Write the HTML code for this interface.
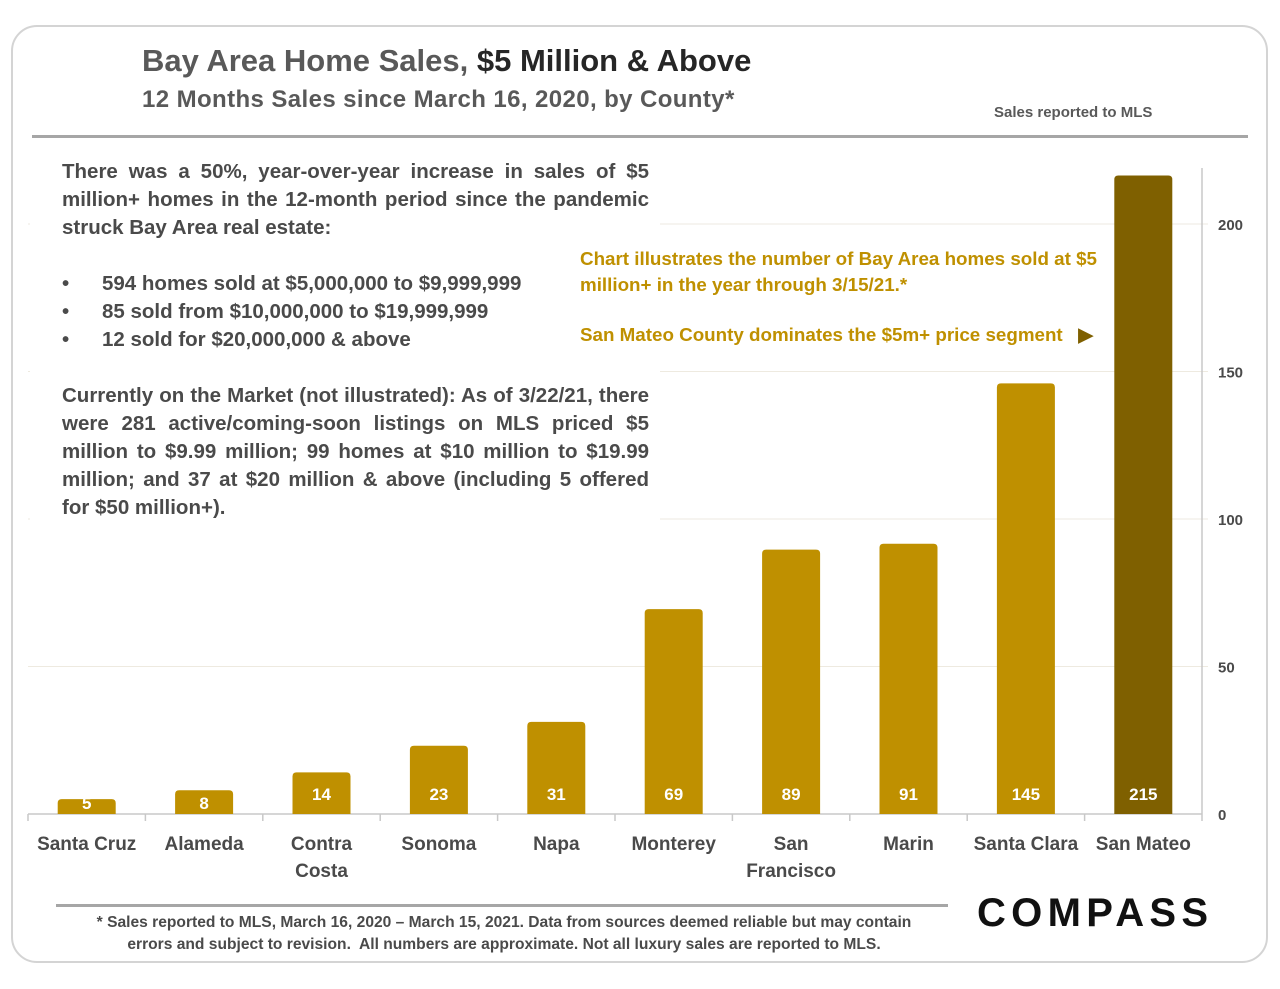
<!DOCTYPE html>
<html><head><meta charset="utf-8"><style>
body{margin:0;background:#fff;width:1280px;height:989px;overflow:hidden;font-family:"Liberation Sans",sans-serif;color:#4a4a4a}
#frame{position:absolute;left:11px;top:25px;width:1257px;height:938px;border:2px solid #d4d4d4;border-radius:26px;box-sizing:border-box}
.t{position:absolute;white-space:nowrap}
</style></head><body>
<div id="frame"></div>
<div class="t" style="left:142px;top:43px;font-size:31px;font-weight:bold;color:#595959;letter-spacing:0px">Bay Area Home Sales, <span style="color:#262626">$5 Million &amp; Above</span></div>
<div class="t" style="left:142px;top:86px;font-size:24px;font-weight:bold;color:#595959;letter-spacing:0.4px">12 Months Sales since March 16, 2020, by County*</div>
<div class="t" style="left:994px;top:104px;font-size:15px;font-weight:bold;color:#595959">Sales reported to MLS</div>
<div style="position:absolute;left:32px;top:135px;width:1216px;height:3px;background:#a6a6a6"></div>
<svg id="chart" width="1280" height="989" style="position:absolute;left:0;top:0"></svg>
<div style="position:absolute;left:30px;top:155px;width:630px;height:365px;background:#fff"></div>
<div style="position:absolute;left:62px;top:158px;width:587px;font-size:20.5px;font-weight:bold;line-height:28px;color:#4a4a4a;text-align:justify">
<div>There was a 50%, year-over-year increase in sales of $5 million+ homes in the 12-month period since the pandemic struck Bay Area real estate:</div>
<div style="height:28px"></div>
<div style="position:relative;padding-left:40px"><span style="position:absolute;left:0">•</span>594 homes sold at $5,000,000 to $9,999,999</div>
<div style="position:relative;padding-left:40px"><span style="position:absolute;left:0">•</span>85 sold from $10,000,000 to $19,999,999</div>
<div style="position:relative;padding-left:40px"><span style="position:absolute;left:0">•</span>12 sold for $20,000,000 &amp; above</div>
<div style="height:28px"></div>
<div>Currently on the Market (not illustrated): As of 3/22/21, there were 281 active/coming-soon listings on MLS priced $5 million to $9.99 million; 99 homes at $10 million to $19.99 million; and 37 at $20 million &amp; above (including 5 offered for $50 million+).</div>
</div>
<div style="position:absolute;left:580px;top:246px;width:530px;font-size:18.8px;font-weight:bold;color:#bf9000;line-height:26px">Chart illustrates the number of Bay Area homes sold at $5 million+ in the year through 3/15/21.*</div>
<div class="t" style="left:580px;top:324px;font-size:18.8px;font-weight:bold;color:#bf9000">San Mateo County dominates the $5m+ price segment &nbsp;&nbsp;<span style="color:#7f6000">▶</span></div>
<div style="position:absolute;left:56px;top:904px;width:892px;height:3px;background:#a6a6a6"></div>
<div style="position:absolute;left:40px;top:912px;width:928px;text-align:center;font-size:15.6px;font-weight:bold;color:#4a4a4a;line-height:22px">* Sales reported to MLS, March 16, 2020 – March 15, 2021. Data from sources deemed reliable but may contain<br>errors and subject to revision.&nbsp; All numbers are approximate. Not all luxury sales are reported to MLS.</div>
<div class="t" style="left:977px;top:891px;font-size:40px;font-weight:bold;letter-spacing:5.3px;color:#111">COMPASS</div>
<script>
const categories=[["Santa Cruz"],["Alameda"],["Contra","Costa"],["Sonoma"],["Napa"],["Monterey"],["San","Francisco"],["Marin"],["Santa Clara"],["San Mateo"]];
const values=[5,8,14,23,31,69,89,91,145,215];
const yTicks=[0,50,100,150,200];
const NS="http://www.w3.org/2000/svg";
const svg=document.getElementById('chart');
const x0=28,x1=1202,yBase=814,yTop=220,yMaxVal=200;
const band=(x1-x0)/categories.length;
const y=v=>yBase-(v/yMaxVal)*(yBase-yTop);
const yt=v=>yBase-(v/yMaxVal)*(yBase-224);
const xc=i=>x0+band*(i+0.5);
function mk(t,a){const e=document.createElementNS(NS,t);for(const k in a)e.setAttribute(k,a[k]);svg.appendChild(e);return e;}
yTicks.forEach(t=>{
 if(t>0){const g=mk('line',{x1:x0,x2:x1+6,y1:yt(t),y2:yt(t),stroke:'#eeeae0','stroke-width':1});
 
 }
 const l=mk('text',{x:x1+16,y:yt(t)+6,'font-size':15,'font-weight':'bold',fill:'#4a4a4a','font-family':'Liberation Sans'});
 l.textContent=t;
 
 
});
const ax=mk('line',{x1:x1,x2:x1,y1:168,y2:yBase,stroke:'#c8c8c8','stroke-width':1.5});


const bx=mk('line',{x1:x0,x2:x1,y1:yBase,y2:yBase,stroke:'#c8c8c8','stroke-width':1.5});


for(let i=0;i<=categories.length;i++){const tk=mk('line',{x1:x0+band*i,x2:x0+band*i,y1:yBase,y2:yBase+7,stroke:'#c8c8c8','stroke-width':1.5});

}
values.forEach((v,i)=>{
 const w=58,top=y(v),h=yBase-top,r=Math.min(4,h/2),xl=xc(i)-w/2;
 const p=mk('path',{d:`M${xl},${yBase}V${top+r}Q${xl},${top} ${xl+r},${top}H${xl+w-r}Q${xl+w},${top} ${xl+w},${top+r}V${yBase}Z`,fill:i===values.length-1?'#7f6000':'#bf9000'});
 
 
 const vl=mk('text',{x:xc(i),y:yBase-14,'text-anchor':'middle','font-size':17,'font-weight':'bold',fill:'#fff','font-family':'Liberation Sans'});
 vl.setAttribute('y',v<10?yBase-5:yBase-14);
 vl.textContent=v;
 
 
 categories[i].forEach((ln,j)=>{
  const c=mk('text',{x:xc(i),y:850+j*27,'text-anchor':'middle','font-size':19,'font-weight':'bold',fill:'#4a4a4a','font-family':'Liberation Sans'});
  c.textContent=ln;
  
  
 });
});
</script>
</body></html>
